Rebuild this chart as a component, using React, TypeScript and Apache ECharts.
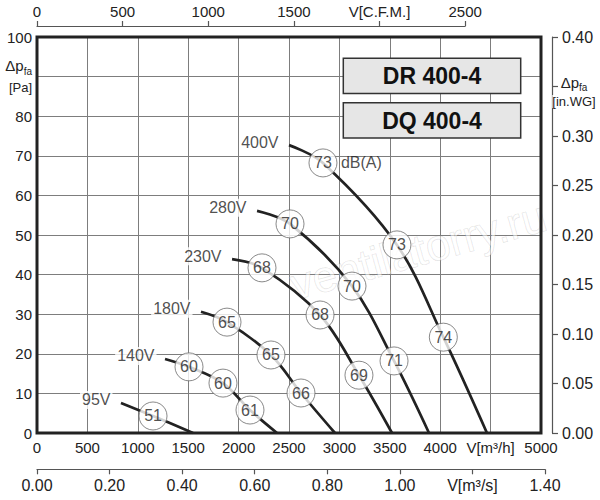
import React, { useEffect, useRef } from "react";
import * as echarts from "echarts";

const FONT = "'Liberation Sans', Arial, Helvetica, sans-serif";
const INK = "#222";
const GRID_GRAY = "#7d7d7d";
const AXIS_GRAY = "#555";

// ---- data ----
const voltages = ["400V", "280V", "230V", "180V", "140V", "95V"];
// first point of each curve [m3/h, Pa]
const curveStarts = [
  [2500, 72.7],
  [2183, 56.1],
  [1935, 43.9],
  [1627, 30.6],
  [1270, 18.7],
  [833, 7.6],
];
// free-blowing flow (0 Pa) of each curve [m3/h]
const curveEnds = [4464, 3889, 3522, 2956, 2381, 1548];
// noise marks on each curve [m3/h, Pa, dB(A)]
const noisePoints = [
  [[2837, 68.2, 73], [3571, 47.5, 73], [4031, 24.2, 74]],
  [[2510, 52.8, 70], [3125, 37.1, 70], [3542, 18.2, 71]],
  [[2232, 41.7, 68], [2808, 29.8, 68], [3194, 14.6, 69]],
  [[1885, 28.0, 65], [2321, 19.7, 65], [2619, 10.1, 66]],
  [[1508, 16.7, 60], [1845, 12.6, 60], [2113, 5.8, 61]],
  [[1151, 4.3, 51]],
];
const dbUnit = "dB(A)";
const modelNames = ["DR 400-4", "DQ 400-4"];

// axes
const flowMax = 5000; // m3/h
const flowStep = 500;
const flowUnitTick = 4500;
const flowUnit = "V[m³/h]";
const cfmMax = 2500;
const cfmStep = 500;
const cfmUnitTick = 2000;
const cfmUnit = "V[C.F.M.]";
const m3sMax = 1.4;
const m3sStep = 0.2;
const m3sUnitTick = 1.2;
const m3sUnit = "V[m³/s]";
const paMax = 100;
const paStep = 10;
const paUnitTick = 90;
const inwgMax = 0.4;
const inwgStep = 0.05;
const inwgUnitTick = 0.35;
const watermark = "ventilatorry.ru";

// ---- layout (pixels) ----
const PLOT_L = 37;
const PLOT_T = 37;
const PLOT_W = 504;
const PLOT_H = 396;
const pxPerFlow = PLOT_W / flowMax;
const CFM_TO_M3H = 1.69901;

const near = (a: number, b: number) => Math.abs(a - b) < 1e-6;

const baseLabel = { fontFamily: FONT, color: INK };

const option: any = {
  animation: false,
  backgroundColor: "#fff",
  textStyle: { fontFamily: FONT },
  grid: [
    {
      left: PLOT_L,
      top: PLOT_T,
      width: PLOT_W,
      height: PLOT_H,
      show: true,
      borderColor: INK,
      borderWidth: 3,
      z: 5,
    },
    { left: PLOT_L, top: 26, width: cfmMax * CFM_TO_M3H * pxPerFlow, height: 6 },
    { left: PLOT_L, top: 460, width: m3sMax * 3600 * pxPerFlow, height: 9.3 },
  ],
  xAxis: [
    {
      gridIndex: 0,
      type: "value",
      min: 0,
      max: flowMax,
      interval: flowStep,
      position: "bottom",
      axisLine: { show: false, onZero: false },
      axisTick: { show: false },
      splitLine: { show: true, lineStyle: { color: GRID_GRAY, width: 1 } },
      axisLabel: {
        ...baseLabel,
        fontSize: 15,
        margin: 7,
        showMinLabel: true,
        showMaxLabel: true,
        formatter: (v: number) => (near(v, flowUnitTick) ? flowUnit : String(v)),
      },
    },
    {
      gridIndex: 1,
      type: "value",
      min: 0,
      max: cfmMax,
      interval: cfmStep,
      position: "top",
      axisLine: { show: true, onZero: false, lineStyle: { color: AXIS_GRAY, width: 1.2 } },
      axisTick: { show: true, length: 5, lineStyle: { color: AXIS_GRAY, width: 1.2 } },
      splitLine: { show: false },
      axisLabel: {
        ...baseLabel,
        fontSize: 15,
        margin: 7,
        showMinLabel: true,
        showMaxLabel: true,
        formatter: (v: number) => (near(v, cfmUnitTick) ? cfmUnit : String(v)),
      },
    },
    {
      gridIndex: 2,
      type: "value",
      min: 0,
      max: m3sMax,
      interval: m3sStep,
      position: "bottom",
      axisLine: { show: true, onZero: false, lineStyle: { color: AXIS_GRAY, width: 1.2 } },
      axisTick: { show: true, length: 5, lineStyle: { color: AXIS_GRAY, width: 1.2 } },
      splitLine: { show: false },
      axisLabel: {
        ...baseLabel,
        fontSize: 16,
        margin: 8,
        showMinLabel: true,
        showMaxLabel: true,
        formatter: (v: number) => (near(v, m3sUnitTick) ? m3sUnit : v.toFixed(2)),
      },
    },
  ],
  yAxis: [
    {
      gridIndex: 0,
      type: "value",
      min: 0,
      max: paMax,
      interval: paStep,
      position: "left",
      axisLine: { show: false, onZero: false },
      axisTick: { show: false },
      splitLine: { show: true, lineStyle: { color: GRID_GRAY, width: 1 } },
      axisLabel: {
        ...baseLabel,
        fontSize: 15,
        margin: 5,
        formatter: (v: number) =>
          near(v, paUnitTick) ? "{a|Δp}{s|fa}\n{b|[Pa]}" : String(v),
        rich: {
          a: { fontSize: 15, lineHeight: 22, fontFamily: FONT, color: INK },
          s: { fontSize: 10, lineHeight: 12, verticalAlign: "bottom", fontFamily: FONT, color: INK },
          b: { fontSize: 13, lineHeight: 22, fontFamily: FONT, color: INK },
        },
      },
    },
    {
      gridIndex: 0,
      type: "value",
      min: 0,
      max: inwgMax,
      interval: inwgStep,
      position: "right",
      offset: 11,
      axisLine: { show: true, onZero: false, lineStyle: { color: AXIS_GRAY, width: 1.2 } },
      axisTick: { show: true, length: 6, lineStyle: { color: AXIS_GRAY, width: 1.2 } },
      splitLine: { show: false },
      axisLabel: {
        ...baseLabel,
        fontSize: 16,
        margin: 10,
        formatter: (v: number) => (near(v, inwgUnitTick) ? "" : v.toFixed(2)),
      },
    },
    { gridIndex: 1, type: "value", show: false, min: 0, max: 1, inverse: true },
    { gridIndex: 2, type: "value", show: false, min: 0, max: 1 },
  ],
  graphic: [
    {
      type: "text",
      x: 418,
      y: 250,
      rotation: 0.27,
      z: 1,
      silent: true,
      style: {
        text: watermark,
        fontSize: 44,
        fontFamily: FONT,
        fill: "rgba(255,255,255,0.55)",
        stroke: "rgba(0,0,0,0.13)",
        lineWidth: 1,
        align: "center",
        verticalAlign: "middle",
      },
    },
    ...modelNames.flatMap((name, i) => {
      const y = i === 0 ? 58.3 : 102.7;
      return [
        {
          type: "rect",
          z: 100,
          shape: { x: 343.3, y, width: 177.4, height: 35.3 },
          style: { fill: "#e6e6e6", stroke: "#333", lineWidth: 1.5 },
        },
        {
          type: "text",
          z: 101,
          x: 432,
          y: y + 17.8,
          style: {
            text: name,
            fontSize: 23,
            fontWeight: "bold",
            fontFamily: FONT,
            fill: "#111",
            align: "center",
            verticalAlign: "middle",
          },
        },
      ];
    }),
    {
      type: "text",
      z: 101,
      x: 574,
      y: 92,
      style: {
        text: "{a|Δp}{s|fa}\n{b|[in.WG]}",
        align: "center",
        verticalAlign: "middle",
        fontFamily: FONT,
        fill: INK,
        rich: {
          a: { fontSize: 15, lineHeight: 19, fontFamily: FONT, fill: INK },
          s: { fontSize: 10, lineHeight: 12, verticalAlign: "bottom", fontFamily: FONT, fill: INK },
          b: { fontSize: 13, lineHeight: 19, fontFamily: FONT, fill: INK, backgroundColor: "#fff" },
        },
      },
    },
  ],
  series: [
    ...voltages.map((v, i) => ({
      type: "line",
      name: v,
      xAxisIndex: 0,
      yAxisIndex: 0,
      smooth: 0.35,
      symbol: "none",
      showSymbol: false,
      silent: true,
      z: 2,
      lineStyle: { color: INK, width: 2.7 },
      data: [curveStarts[i], ...noisePoints[i].map((p) => [p[0], p[1]]), [curveEnds[i], 0]],
    })),
    {
      type: "scatter",
      name: "voltage labels",
      xAxisIndex: 0,
      yAxisIndex: 0,
      symbolSize: 1,
      silent: true,
      z: 3,
      itemStyle: { color: "rgba(0,0,0,0)" },
      data: curveStarts.map((p, i) => ({ value: p, name: voltages[i] })),
      label: {
        show: true,
        position: "left",
        distance: 8,
        offset: [0, -3],
        formatter: (p: any) => p.name,
        backgroundColor: "#fff",
        padding: [1, 2],
        fontSize: 16,
        fontFamily: FONT,
        color: INK,
      },
    },
    {
      type: "scatter",
      name: "unit",
      xAxisIndex: 0,
      yAxisIndex: 0,
      symbolSize: 28,
      silent: true,
      z: 3,
      itemStyle: { color: "rgba(0,0,0,0)" },
      data: [[noisePoints[0][0][0], noisePoints[0][0][1]]],
      label: {
        show: true,
        position: "right",
        distance: 4,
        formatter: () => dbUnit,
        fontSize: 16,
        fontFamily: FONT,
        color: INK,
      },
    },
    {
      type: "scatter",
      name: "noise",
      xAxisIndex: 0,
      yAxisIndex: 0,
      symbol: "circle",
      symbolSize: 28,
      silent: true,
      z: 4,
      itemStyle: { color: "#fff", borderColor: "#6b6b6b", borderWidth: 1 },
      data: noisePoints.flat(),
      label: {
        show: true,
        position: "inside",
        formatter: (p: any) => String(p.value[2]),
        fontSize: 16,
        fontFamily: FONT,
        color: INK,
      },
    },
  ],
};

export default function App() {
  const ref = useRef<HTMLDivElement>(null);
  useEffect(() => {
    if (!ref.current) return;
    const chart = echarts.init(ref.current, null, { renderer: "svg" });
    chart.setOption(option);
    return () => chart.dispose();
  }, []);
  return (
    <div
      ref={ref}
      style={{ position: "absolute", left: 0, top: 0, width: 600, height: 500 }}
    />
  );
}
